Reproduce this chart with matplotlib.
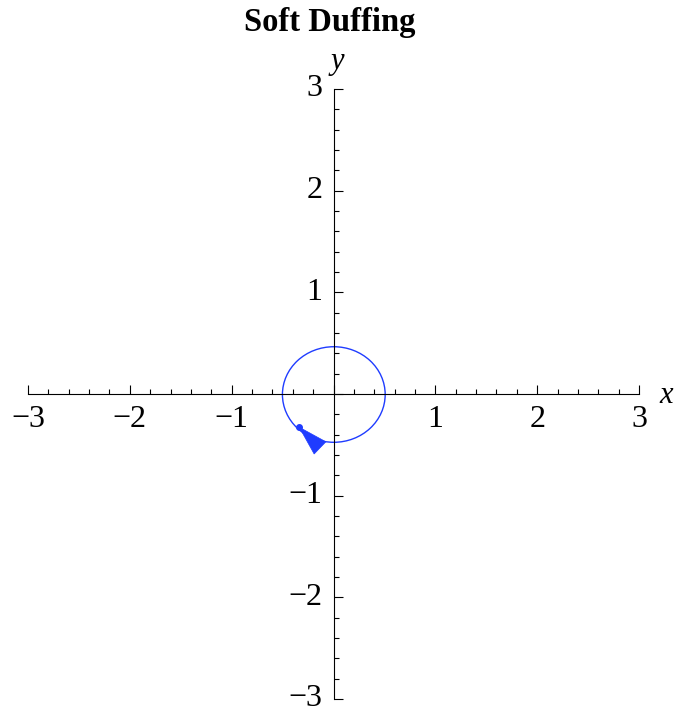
import matplotlib
matplotlib.use("Agg")
import matplotlib.pyplot as plt
from matplotlib.patches import Ellipse, Polygon
from matplotlib.ticker import MultipleLocator, FixedLocator
from matplotlib.transforms import ScaledTranslation

plt.rcParams['font.family'] = ['Liberation Serif', 'DejaVu Serif']

# Phase-plane orbit (x, y) of the soft Duffing oscillator
orbit_center = (0.003, -0.005)
orbit_width = 1.009
orbit_height = 0.94

# Starting state and the arrowhead showing the direction of motion
start_x, start_y = -0.336, -0.327
arrow_x = [-0.336, -0.19, -0.075]
arrow_y = [-0.327, -0.59, -0.47]

major_ticks = [-3, -2, -1, 0, 1, 2, 3]
tick_labels = ["\u22123", "\u22122", "\u22121", "", "1", "2", "3"]
title = "Soft Duffing"
blue = "#1f3cff"

W, H = 678, 709
fig = plt.figure(figsize=(W / 100, H / 100), dpi=100)
ax = fig.add_axes([28 / W, 10 / H, 611 / W, 610 / H])
ax.set_xlim(-3, 3)
ax.set_ylim(-3, 3)
ax.patch.set_visible(False)

for side in ("top", "right"):
    ax.spines[side].set_visible(False)
for side in ("left", "bottom"):
    ax.spines[side].set_position(("data", 0))
    ax.spines[side].set_linewidth(0.8)

ax.xaxis.set_major_locator(FixedLocator(major_ticks))
ax.yaxis.set_major_locator(FixedLocator(major_ticks))
ax.xaxis.set_minor_locator(MultipleLocator(0.2))
ax.yaxis.set_minor_locator(MultipleLocator(0.2))
ax.set_xticklabels(tick_labels)
ax.set_yticklabels(tick_labels)
ax.tick_params(which="major", direction="in", length=6.5, width=0.8,
               labelsize=23, pad=8)
ax.tick_params(which="minor", direction="in", length=3.6, width=0.8)
for t in ax.xaxis.get_major_ticks() + ax.yaxis.get_major_ticks():
    t.tick1line.set_clip_on(False)
    t.label1.set_clip_on(False)
# lift the y tick labels a little above their ticks
lift = ScaledTranslation(0, 3.5 / 100, fig.dpi_scale_trans)
for t in ax.yaxis.get_major_ticks():
    t.label1.set_transform(t.label1.get_transform() + lift)

ax.add_patch(Ellipse(orbit_center, orbit_width, orbit_height, fill=False,
                     edgecolor=blue, linewidth=1.0))
ax.add_patch(Polygon(list(zip(arrow_x, arrow_y)), closed=True,
                     facecolor=blue, edgecolor=blue, linewidth=0.5))
ax.plot([start_x], [start_y], "o", color=blue, markersize=4)

ax.text(3.2, -0.01, "x", fontsize=22, style="italic", ha="left", va="center")
ax.text(0.04, 3.27, "y", fontsize=22, style="italic", ha="center", va="center")

fig.text(330 / W, 1 - 22 / H, title, fontsize=23.5, fontweight="bold",
         ha="center", va="center")

fig.savefig("out.png", dpi=100)
